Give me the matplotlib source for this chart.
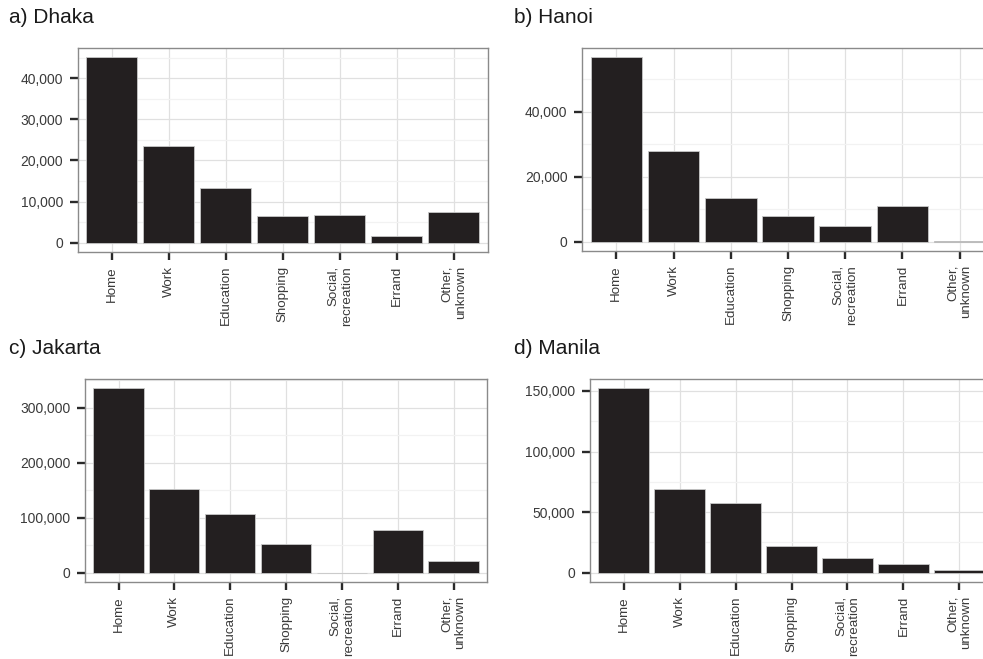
import matplotlib
matplotlib.use("Agg")
import matplotlib.pyplot as plt
from matplotlib.ticker import FuncFormatter, MultipleLocator
import numpy as np

plt.rcParams['font.family'] = ['Liberation Sans', 'DejaVu Sans']

categories = ["Home", "Work", "Education", "Shopping", "Social,\nrecreation", "Errand", "Other,\nunknown"]

titles = ["a) Dhaka", "b) Hanoi", "c) Jakarta", "d) Manila"]
dhaka = [45100, 23500, 13300, 6400, 6650, 1700, 7500]
hanoi = [56760, 27960, 13570, 7960, 4780, 10900, 150]
jakarta = [335000, 151300, 107300, 53000, 0, 77800, 20500]
manila = [152200, 69500, 57500, 21900, 12300, 7400, 2500]
major_steps = [10000, 20000, 100000, 50000]

W, H = 983, 659
fig = plt.figure(figsize=(W / 100, H / 100), dpi=100)

# axes rectangles in pixels: left, top, right, bottom
rects = [(77.5, 48, 488, 252), (582, 48, 994, 251), (85, 379, 487, 582), (590, 379, 993, 582)]
title_pos = [(9, 23), (514, 23), (9, 354), (514, 354)]

bar_color = "#231f20"
for vals, title, rect, tp, step in zip([dhaka, hanoi, jakarta, manila], titles, rects, title_pos, major_steps):
    l, t, r, b = rect
    ax = fig.add_axes([l / W, 1 - b / H, (r - l) / W, (b - t) / H])
    x = np.arange(len(categories))
    ax.bar(x, vals, width=0.9, color=bar_color, edgecolor="#c8c8c8", linewidth=0.6, zorder=3)
    vmax = max(vals)
    ax.set_ylim(-0.05 * vmax, 1.05 * vmax)
    ax.set_xlim(-0.6, len(categories) - 0.4)
    ax.yaxis.set_major_locator(MultipleLocator(step))
    ax.yaxis.set_minor_locator(MultipleLocator(step / 2))
    ax.yaxis.set_major_formatter(FuncFormatter(lambda v, p: f"{v:,.0f}"))
    ax.set_xticks(x)
    ax.set_xticklabels(categories, rotation=90, ha="center", va="top", multialignment="right")
    ax.set_facecolor("white")
    ax.grid(which="major", axis="both", color="#e0e0e0", linewidth=0.9, zorder=0)
    ax.grid(which="minor", axis="y", color="#f2f2f2", linewidth=0.9, zorder=0)
    ax.set_axisbelow(True)
    for s in ax.spines.values():
        s.set_color("#8a8a8a")
        s.set_linewidth(1.0)
    ax.tick_params(axis="both", which="major", length=6, width=1.7, color="#2a2a2a",
                   labelsize=10, labelcolor="#3a3a3a", pad=4.5)
    ax.tick_params(axis="x", pad=4, labelsize=9.6)
    ax.tick_params(axis="both", which="minor", length=0)
    fig.text(tp[0] / W, 1 - tp[1] / H, title, fontsize=15, ha="left", va="baseline", color="#1a1a1a")

fig.savefig("out.png", dpi=100)
